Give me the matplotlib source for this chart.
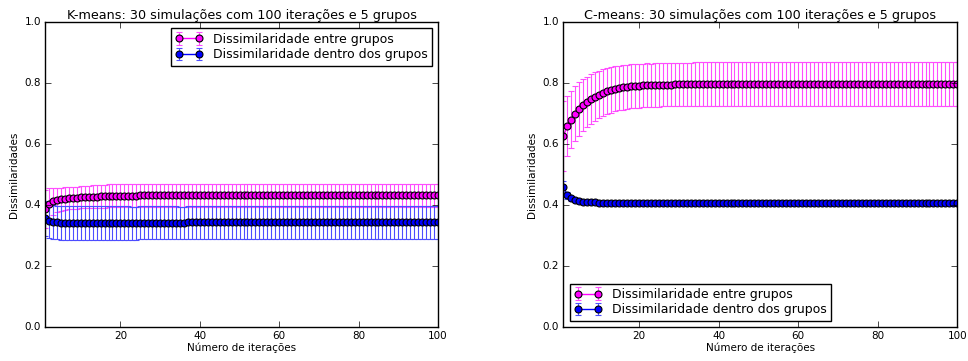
import numpy as np
import matplotlib
matplotlib.use("Agg")
import matplotlib.pyplot as plt

iteracoes = list(range(1, 101))

# K-means: dissimilaridade entre grupos (media e desvio)
km_entre = [
    0.388, 0.405, 0.412, 0.416, 0.419, 0.421, 0.422, 0.423, 0.424, 0.425,
    0.426, 0.427, 0.428, 0.428, 0.429, 0.429, 0.430, 0.430, 0.430, 0.431,
    0.431, 0.431, 0.431, 0.431, 0.432, 0.432, 0.432, 0.432, 0.432, 0.432,
    0.432, 0.432, 0.432, 0.432, 0.432, 0.432, 0.432, 0.432, 0.432, 0.432,
    0.432, 0.432, 0.432, 0.432, 0.432, 0.432, 0.432, 0.432, 0.432, 0.432,
    0.432, 0.432, 0.432, 0.432, 0.432, 0.432, 0.432, 0.432, 0.432, 0.432,
    0.432, 0.432, 0.432, 0.432, 0.432, 0.432, 0.432, 0.432, 0.432, 0.432,
    0.432, 0.432, 0.432, 0.432, 0.432, 0.432, 0.432, 0.432, 0.432, 0.432,
    0.432, 0.432, 0.432, 0.432, 0.432, 0.432, 0.432, 0.432, 0.432, 0.432,
    0.432, 0.432, 0.432, 0.432, 0.432, 0.432, 0.432, 0.432, 0.432, 0.432,
]
km_entre_std = [
    0.062, 0.050, 0.043, 0.040, 0.038, 0.037, 0.036, 0.036, 0.036, 0.036,
    0.037, 0.037, 0.037, 0.038, 0.038, 0.038, 0.038, 0.038, 0.038, 0.038,
    0.038, 0.038, 0.038, 0.038, 0.038, 0.038, 0.038, 0.038, 0.038, 0.038,
    0.038, 0.038, 0.038, 0.038, 0.038, 0.038, 0.038, 0.038, 0.038, 0.038,
    0.038, 0.038, 0.038, 0.038, 0.038, 0.038, 0.038, 0.038, 0.038, 0.038,
    0.038, 0.038, 0.038, 0.038, 0.038, 0.038, 0.038, 0.038, 0.038, 0.038,
    0.038, 0.038, 0.038, 0.038, 0.038, 0.038, 0.038, 0.038, 0.038, 0.038,
    0.038, 0.038, 0.038, 0.038, 0.038, 0.038, 0.038, 0.038, 0.038, 0.038,
    0.038, 0.038, 0.038, 0.038, 0.038, 0.038, 0.038, 0.038, 0.038, 0.038,
    0.038, 0.038, 0.038, 0.038, 0.038, 0.038, 0.038, 0.038, 0.038, 0.038,
]

# K-means: dissimilaridade dentro dos grupos
km_dentro = [
    0.356, 0.348, 0.345, 0.343, 0.342, 0.341, 0.341, 0.340, 0.340, 0.340,
    0.340, 0.340, 0.340, 0.340, 0.340, 0.340, 0.340, 0.341, 0.341, 0.341,
    0.341, 0.341, 0.341, 0.341, 0.342, 0.342, 0.342, 0.342, 0.342, 0.342,
    0.342, 0.342, 0.342, 0.342, 0.342, 0.342, 0.343, 0.343, 0.343, 0.343,
    0.343, 0.343, 0.343, 0.343, 0.343, 0.343, 0.343, 0.343, 0.343, 0.343,
    0.343, 0.343, 0.343, 0.343, 0.343, 0.343, 0.343, 0.343, 0.343, 0.343,
    0.343, 0.343, 0.343, 0.343, 0.343, 0.343, 0.343, 0.343, 0.343, 0.343,
    0.343, 0.343, 0.343, 0.343, 0.343, 0.343, 0.343, 0.343, 0.343, 0.343,
    0.343, 0.343, 0.343, 0.343, 0.343, 0.343, 0.343, 0.343, 0.343, 0.343,
    0.343, 0.343, 0.343, 0.343, 0.343, 0.343, 0.343, 0.343, 0.343, 0.343,
]
km_dentro_std = [
    0.058, 0.056, 0.055, 0.055, 0.055, 0.056, 0.056, 0.056, 0.056, 0.056,
    0.056, 0.056, 0.056, 0.056, 0.056, 0.056, 0.056, 0.055, 0.055, 0.055,
    0.055, 0.055, 0.054, 0.054, 0.054, 0.054, 0.054, 0.054, 0.054, 0.054,
    0.054, 0.054, 0.054, 0.054, 0.053, 0.053, 0.053, 0.053, 0.053, 0.053,
    0.053, 0.053, 0.053, 0.053, 0.053, 0.053, 0.053, 0.053, 0.053, 0.053,
    0.053, 0.053, 0.053, 0.053, 0.053, 0.053, 0.053, 0.053, 0.053, 0.053,
    0.053, 0.053, 0.053, 0.053, 0.053, 0.053, 0.053, 0.053, 0.053, 0.053,
    0.053, 0.053, 0.053, 0.053, 0.053, 0.053, 0.053, 0.053, 0.053, 0.053,
    0.053, 0.053, 0.053, 0.053, 0.053, 0.053, 0.053, 0.053, 0.053, 0.053,
    0.053, 0.053, 0.053, 0.053, 0.053, 0.053, 0.053, 0.053, 0.053, 0.053,
]

# C-means: dissimilaridade entre grupos
cm_entre = [
    0.625, 0.660, 0.680, 0.700, 0.715, 0.728, 0.738, 0.747, 0.755, 0.762,
    0.768, 0.773, 0.777, 0.781, 0.784, 0.786, 0.788, 0.789, 0.790, 0.791,
    0.792, 0.793, 0.793, 0.794, 0.794, 0.795, 0.795, 0.795, 0.796, 0.796,
    0.796, 0.796, 0.796, 0.797, 0.797, 0.797, 0.797, 0.797, 0.797, 0.797,
    0.797, 0.797, 0.797, 0.797, 0.797, 0.797, 0.797, 0.797, 0.797, 0.797,
    0.797, 0.797, 0.797, 0.797, 0.797, 0.797, 0.797, 0.797, 0.797, 0.797,
    0.797, 0.797, 0.797, 0.797, 0.797, 0.797, 0.797, 0.797, 0.797, 0.797,
    0.797, 0.797, 0.797, 0.797, 0.797, 0.797, 0.797, 0.797, 0.797, 0.797,
    0.797, 0.797, 0.797, 0.797, 0.797, 0.797, 0.797, 0.797, 0.797, 0.797,
    0.797, 0.797, 0.797, 0.797, 0.797, 0.797, 0.797, 0.797, 0.797, 0.797,
]
cm_entre_std = [
    0.115, 0.098, 0.093, 0.090, 0.088, 0.085, 0.083, 0.081, 0.080, 0.078,
    0.077, 0.076, 0.075, 0.074, 0.073, 0.073, 0.072, 0.072, 0.072, 0.072,
    0.072, 0.072, 0.071, 0.071, 0.071, 0.071, 0.071, 0.071, 0.071, 0.071,
    0.071, 0.071, 0.071, 0.071, 0.071, 0.071, 0.071, 0.071, 0.071, 0.071,
    0.071, 0.071, 0.071, 0.071, 0.071, 0.071, 0.071, 0.071, 0.071, 0.071,
    0.071, 0.071, 0.071, 0.071, 0.071, 0.071, 0.071, 0.071, 0.071, 0.071,
    0.071, 0.071, 0.071, 0.071, 0.071, 0.071, 0.071, 0.071, 0.071, 0.071,
    0.071, 0.071, 0.071, 0.071, 0.071, 0.071, 0.071, 0.071, 0.071, 0.071,
    0.071, 0.071, 0.071, 0.071, 0.071, 0.071, 0.071, 0.071, 0.071, 0.071,
    0.071, 0.071, 0.071, 0.071, 0.071, 0.071, 0.071, 0.071, 0.071, 0.071,
]

# C-means: dissimilaridade dentro dos grupos
cm_dentro = [
    0.460, 0.432, 0.422, 0.416, 0.413, 0.411, 0.410, 0.409, 0.409, 0.408,
    0.408, 0.408, 0.408, 0.408, 0.408, 0.407, 0.407, 0.407, 0.407, 0.407,
    0.407, 0.407, 0.407, 0.407, 0.407, 0.407, 0.407, 0.407, 0.407, 0.407,
    0.407, 0.407, 0.407, 0.407, 0.407, 0.407, 0.407, 0.407, 0.407, 0.407,
    0.407, 0.407, 0.407, 0.407, 0.407, 0.407, 0.407, 0.407, 0.407, 0.407,
    0.407, 0.407, 0.407, 0.407, 0.407, 0.407, 0.407, 0.407, 0.407, 0.407,
    0.407, 0.407, 0.407, 0.407, 0.407, 0.407, 0.407, 0.407, 0.407, 0.407,
    0.407, 0.407, 0.407, 0.407, 0.407, 0.407, 0.407, 0.407, 0.407, 0.407,
    0.407, 0.407, 0.407, 0.407, 0.407, 0.407, 0.407, 0.407, 0.407, 0.407,
    0.407, 0.407, 0.407, 0.407, 0.407, 0.407, 0.407, 0.407, 0.407, 0.407,
]
cm_dentro_std = [
    0.018, 0.012, 0.008, 0.006, 0.005, 0.005, 0.004, 0.004, 0.004, 0.004,
    0.004, 0.004, 0.004, 0.004, 0.004, 0.004, 0.004, 0.004, 0.004, 0.004,
    0.004, 0.004, 0.004, 0.004, 0.004, 0.004, 0.004, 0.004, 0.004, 0.004,
    0.004, 0.004, 0.004, 0.004, 0.004, 0.004, 0.004, 0.004, 0.004, 0.004,
    0.004, 0.004, 0.004, 0.004, 0.004, 0.004, 0.004, 0.004, 0.004, 0.004,
    0.004, 0.004, 0.004, 0.004, 0.004, 0.004, 0.004, 0.004, 0.004, 0.004,
    0.004, 0.004, 0.004, 0.004, 0.004, 0.004, 0.004, 0.004, 0.004, 0.004,
    0.004, 0.004, 0.004, 0.004, 0.004, 0.004, 0.004, 0.004, 0.004, 0.004,
    0.004, 0.004, 0.004, 0.004, 0.004, 0.004, 0.004, 0.004, 0.004, 0.004,
    0.004, 0.004, 0.004, 0.004, 0.004, 0.004, 0.004, 0.004, 0.004, 0.004,
]

titulos = ["K-means: 30 simulações com 100 iterações e 5 grupos",
           "C-means: 30 simulações com 100 iterações e 5 grupos"]
legenda = ["Dissimilaridade entre grupos", "Dissimilaridade dentro dos grupos"]


def desenha(ax, entre, entre_std, dentro, dentro_std, titulo, loc):
    ax.errorbar(iteracoes, entre, yerr=entre_std, fmt="-o", color="magenta",
                ecolor=(1.0, 0.3, 1.0), markerfacecolor="magenta",
                markeredgecolor="black", markeredgewidth=0.8, markersize=5,
                capsize=2.5, elinewidth=0.8, linewidth=1.0, label=legenda[0])
    ax.errorbar(iteracoes, dentro, yerr=dentro_std, fmt="-o", color="blue",
                ecolor=(0.3, 0.3, 1.0), markerfacecolor="blue",
                markeredgecolor="black", markeredgewidth=0.8, markersize=5,
                capsize=2.5, elinewidth=0.8, linewidth=1.0, label=legenda[1])
    ax.set_xlim(1, 100)
    ax.set_ylim(0, 1.0)
    ax.set_xticks([20, 40, 60, 80, 100])
    ax.set_yticks([0.0, 0.2, 0.4, 0.6, 0.8, 1.0])
    ax.set_title(titulo, fontsize=9.2, pad=2)
    ax.set_xlabel("Número de iterações", fontsize=7.5, labelpad=1)
    ax.set_ylabel("Dissimilaridades", fontsize=7.5, labelpad=4)
    ax.tick_params(labelsize=7.5, direction="in", top=True, right=True,
                   length=4, pad=3)
    leg = ax.legend(loc=loc, fontsize=9, numpoints=2, fancybox=False,
                    handlelength=2.2, borderaxespad=0.5, labelspacing=0.2,
                    borderpad=0.35)
    leg.get_frame().set_edgecolor("black")


plt.style.use("classic")
fig = plt.figure(figsize=(9.68, 3.61), dpi=100)
fig.patch.set_facecolor("white")
ax1 = fig.add_axes([0.0465, 0.094, 0.406, 0.845])
ax2 = fig.add_axes([0.582, 0.094, 0.407, 0.845])

desenha(ax1, km_entre, km_entre_std, km_dentro, km_dentro_std, titulos[0], "upper right")
desenha(ax2, cm_entre, cm_entre_std, cm_dentro, cm_dentro_std, titulos[1], "lower left")

fig.savefig("out.png", dpi=100, facecolor="white")
